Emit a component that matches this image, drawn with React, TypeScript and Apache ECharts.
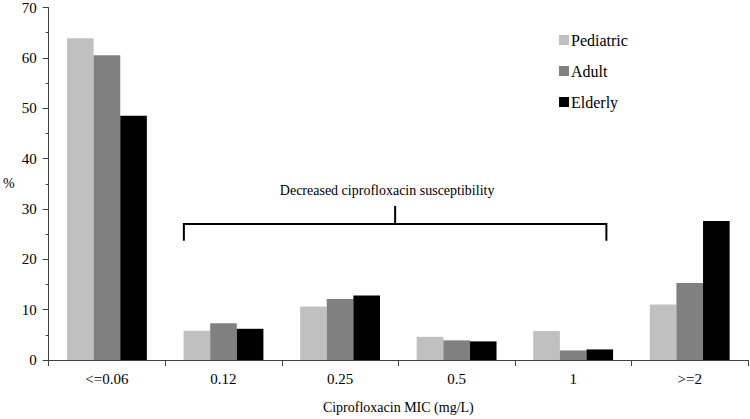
import React, { useEffect, useRef } from "react";
import * as echarts from "echarts";

const categories = ["<=0.06", "0.12", "0.25", "0.5", "1", ">=2"];
const seriesNames = ["Pediatric", "Adult", "Elderly"];
const pediatric = [63.9, 5.8, 10.6, 4.6, 5.75, 11.0];
const adult = [60.5, 7.3, 12.1, 3.9, 1.9, 15.3];
const elderly = [48.5, 6.2, 12.8, 3.7, 2.1, 27.6];
const colors = ["#c0c0c0", "#808080", "#000000"];
const yTicks = { min: 0, max: 70, interval: 10 };
const bracketLabel = "Decreased ciprofloxacin susceptibility";
// bracket spans categories 0.12 .. 1, y in data values
const bracketFrom = 1;
const bracketTo = 4;
const bracketY = 27;
const bracketLegY = 23.7;
const bracketStemY = 30.6;
const bracketTextY = 33.6;

const FONT = "Liberation Serif";

export default function App() {
  const ref = useRef<HTMLDivElement>(null);
  useEffect(() => {
    if (!ref.current) return;
    const chart = echarts.init(ref.current, undefined, { renderer: "svg" });
    const data = [pediatric, adult, elderly];
    chart.setOption({
      animation: false,
      textStyle: { fontFamily: FONT },
      grid: { left: 45, top: 7, width: 703, height: 361.5, containLabel: false },
      legend: {
        orient: "vertical",
        left: 554,
        top: 27,
        itemWidth: 10,
        itemHeight: 10,
        itemGap: 15,
        icon: "rect",
        data: seriesNames,
        textStyle: { fontFamily: FONT, fontSize: 16, color: "#000", padding: [0, 0, 0, -3] },
      },
      xAxis: {
        type: "category",
        data: categories,
        name: "Ciprofloxacin MIC (mg/L)",
        nameLocation: "middle",
        nameGap: 40,
        nameTextStyle: { fontFamily: FONT, fontSize: 14, color: "#000" },
        axisLine: { lineStyle: { color: "#404040", width: 1 } },
        axisTick: { show: true, length: 6, lineStyle: { color: "#404040" } },
        axisLabel: { fontFamily: FONT, fontSize: 15, color: "#000", margin: 11 },
      },
      yAxis: {
        type: "value",
        min: yTicks.min,
        max: yTicks.max,
        interval: yTicks.interval,
        name: "%",
        nameLocation: "middle",
        nameRotate: 0,
        nameGap: 34,
        nameTextStyle: { fontFamily: FONT, fontSize: 14, color: "#000" },
        axisLine: { show: true, lineStyle: { color: "#404040", width: 1 } },
        axisTick: { show: true, length: 6, lineStyle: { color: "#404040" } },
        minorTick: { show: true, splitNumber: 2, length: 3, lineStyle: { color: "#404040" } },
        splitLine: { show: false },
        axisLabel: { fontFamily: FONT, fontSize: 15, color: "#000", margin: 12 },
      },
      series: seriesNames.map((name, i) => ({
        name,
        type: "bar",
        data: data[i],
        barGap: "0%",
        barCategoryGap: "31.5%",
        itemStyle: { color: colors[i] },
      })),
    });

    const px = (cat: number, v: number) =>
      chart.convertToPixel({ xAxisIndex: 0, yAxisIndex: 0 }, [cat, v]) as number[];
    const cw = px(1, 0)[0] - px(0, 0)[0];
    const leftX = px(bracketFrom, 0)[0] - cw * 0.34;
    const rightX = px(bracketTo, 0)[0] + cw * 0.285;
    const yH = px(0, bracketY)[1];
    const yLeg = px(0, bracketLegY)[1];
    const yStem = px(0, bracketStemY)[1];
    const yText = px(0, bracketTextY)[1];
    const midX = (leftX + rightX) / 2;
    const ls = { stroke: "#000", lineWidth: 2, fill: "none" };
    chart.setOption({
      graphic: [
        {
          type: "polyline",
          shape: { points: [[leftX, yLeg], [leftX, yH], [rightX, yH], [rightX, yLeg]] },
          style: ls,
        },
        { type: "line", shape: { x1: midX, y1: yH, x2: midX, y2: yStem }, style: ls },
        {
          type: "text",
          x: midX - 8,
          y: yText,
          style: {
            text: bracketLabel,
            font: `14px ${FONT}`,
            fill: "#000",
            align: "center",
            verticalAlign: "middle",
          },
        },
      ],
    });
    return () => chart.dispose();
  }, []);
  return <div ref={ref} style={{ width: 750, height: 419, position: "absolute", left: 0, top: 0 }} />;
}
